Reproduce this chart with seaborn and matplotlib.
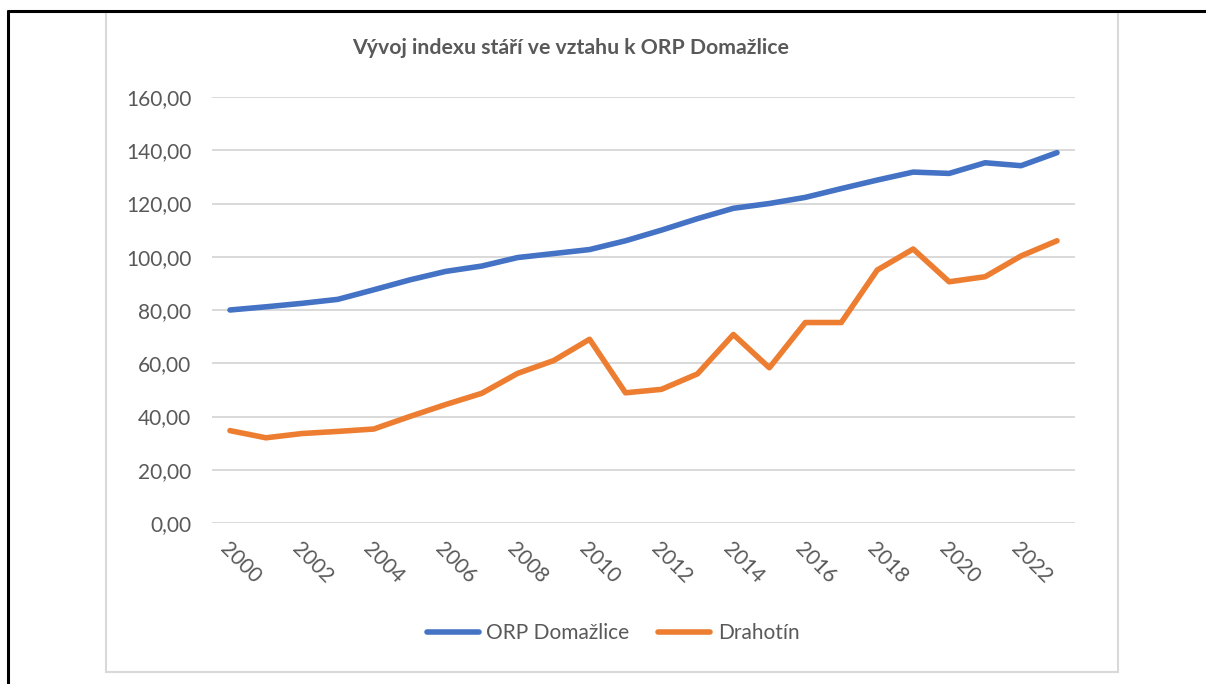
import matplotlib
matplotlib.use("Agg")
import matplotlib.pyplot as plt
from matplotlib.lines import Line2D
from matplotlib.patches import Rectangle
import seaborn as sns
import pandas as pd

years = list(range(2000, 2024))
orp_domazlice = [80.0, 81.2, 82.5, 84.0, 87.6, 91.3, 94.5, 96.5, 99.7, 101.2, 102.7, 106.0,
                 110.0, 114.3, 118.2, 120.0, 122.3, 125.6, 128.8, 131.8, 131.3, 135.3, 134.2, 139.1]
drahotin = [34.7, 32.0, 33.6, 34.4, 35.3, 40.0, 44.5, 48.7, 56.2, 61.0, 69.0, 48.9,
            50.2, 56.0, 70.8, 58.3, 75.3, 75.3, 95.0, 102.9, 90.6, 92.5, 100.3, 106.0]
series_names = ["ORP Domažlice", "Drahotín"]
colors = ["#4472C4", "#ED7D31"]
title = "Vývoj indexu stáří ve vztahu k ORP Domažlice"
yticks = [0, 20, 40, 60, 80, 100, 120, 140, 160]

df = pd.DataFrame({
    "idx": list(range(len(years))) * 2,
    "value": orp_domazlice + drahotin,
    "series": [series_names[0]] * len(years) + [series_names[1]] * len(years),
})

sns.set_theme(style="white")
plt.rcParams['font.family'] = ['Lato', 'DejaVu Sans']

W, H = 1206, 684
fig = plt.figure(figsize=(W / 100, H / 100), dpi=100)
ax = fig.add_axes([212 / W, (H - 523) / H, (1075 - 212) / W, (523 - 97) / H])

sns.lineplot(data=df, x="idx", y="value", hue="series", palette=colors,
             linewidth=4.0, ax=ax, legend=False, solid_capstyle="round",
             solid_joinstyle="round")

ax.set_xlim(-0.5, len(years) - 0.5)
ax.set_ylim(0, 160)
ax.set_yticks(yticks)
ax.set_yticklabels([f"{v:.2f}".replace(".", ",") for v in yticks])
ax.set_xticks(list(range(0, len(years), 2)))
ax.set_xticklabels([str(y) for y in years[::2]])
ax.set_xlabel("")
ax.set_ylabel("")
for s in ax.spines.values():
    s.set_visible(False)
ax.grid(axis="y", color="#D9D9D9", linewidth=1.4)
ax.set_axisbelow(True)
ax.tick_params(axis="y", length=0, pad=15, labelsize=15, labelcolor="#595959")
ax.tick_params(axis="x", length=0, pad=11, labelsize=15, labelcolor="#595959")
for lbl in ax.get_xticklabels():
    lbl.set_rotation(-45)
    lbl.set_ha("left")
    lbl.set_va("top")
    lbl.set_rotation_mode("anchor")

fig.text(571 / W, 1 - 48 / H, title, ha="center", va="center", fontsize=15.3,
         fontweight="bold", color="#595959")

handles = [Line2D([], [], color=c, linewidth=4.0, solid_capstyle="round") for c in colors]
leg = fig.legend(handles, series_names, loc="center", bbox_to_anchor=(613 / W, 1 - 633 / H),
                 ncol=2, frameon=False, fontsize=15, handlelength=2.5, handletextpad=0.35,
                 columnspacing=1.4, labelcolor="#595959")

# chart area border
fig.patches.append(Rectangle((106 / W, 1 - 672 / H), (1118 - 106) / W, (672 - 12) / H,
                             transform=fig.transFigure, fill=False, edgecolor="#D9D9D9",
                             linewidth=1.5))
# black frame lines
fig.lines.append(Line2D([8 / W, 1], [1 - 11 / H, 1 - 11 / H], transform=fig.transFigure,
                        color="black", linewidth=2.2))
fig.lines.append(Line2D([8 / W, 8 / W], [0, 1 - 11 / H], transform=fig.transFigure,
                        color="black", linewidth=2.2))

fig.savefig("out.png", dpi=100, facecolor="white")
